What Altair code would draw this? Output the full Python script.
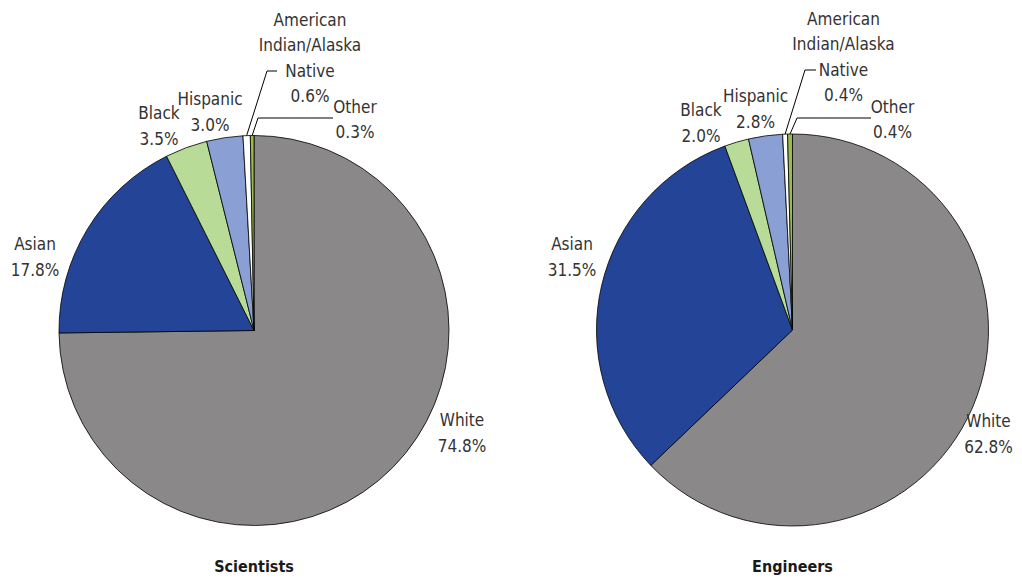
import math
import altair as alt
import pandas as pd

categories = ["White", "Asian", "Black", "Hispanic", "American Indian/Alaska Native", "Other"]
label_names = ["White", "Asian", "Black", "Hispanic", "American\nIndian/Alaska\nNative", "Other"]
scientists = [74.8, 17.8, 3.5, 3.0, 0.6, 0.3]
engineers = [62.8, 31.5, 2.0, 2.8, 0.4, 0.4]
colors = ["#8a8888", "#244597", "#b8dc98", "#8a9fd3", "#ffffff", "#9bbb4e"]
panel_titles = ["Scientists", "Engineers"]

# label placement: first-line centre offset (dx, dy) from the pie centre, px
label_offsets = {
    "Scientists": [(208, 90.5), (-219, -85.5), (-95, -216.5), (-44, -230.5), (56, -310), (101, -223)],
    "Engineers": [(196, 92), (-220.5, -85), (-91.5, -219), (-37, -233), (51, -310.5), (100, -222.5)],
}
# leader lines: (elbow dx, dy, end dx, dy) relative to centre, for AIAN and Other
leaders = {
    "Scientists": {4: (13, -259.5, 23, -259.5), 5: (4, -212.5, 79, -212.5)},
    "Engineers": {4: (12.5, -260, 23.5, -260), 5: (4.5, -212, 78.5, -212)},
}
centres = {"Scientists": (246, 322.5, 195), "Engineers": (784.5, 322, 196)}

FONT = "DejaVu Sans Condensed, Liberation Sans Narrow, sans-serif"

color_scale = alt.Scale(domain=categories, range=colors)

layers = []
for name, values in zip(panel_titles, [scientists, engineers]):
    cx, cy, R = centres[name]
    df = pd.DataFrame({"category": categories, "value": values, "idx": list(range(len(categories)))})
    arc = alt.Chart(df).mark_arc(stroke="#000000", strokeWidth=0.8, radius=R).encode(
        theta=alt.Theta("value:Q", stack=True),
        color=alt.Color("category:N", scale=color_scale, legend=None),
        order=alt.Order("idx:Q", sort="ascending"),
        x=alt.value(cx),
        y=alt.value(cy),
    )
    layers.append(arc)

    offs = label_offsets[name]
    lab = pd.DataFrame({
        "text": [f"{n}\n{v:.1f}%" for n, v in zip(label_names, values)],
        "lt": [math.atan2(dx, -dy) for dx, dy in offs],
        "lr": [math.hypot(dx, dy) for dx, dy in offs],
    })
    text = alt.Chart(lab).mark_text(
        font=FONT, fontSize=17, lineBreak="\n", lineHeight=25.5, align="center",
        baseline="middle", color="#333333",
    ).encode(
        text="text:N",
        theta=alt.Theta("lt:Q", scale=None),
        radius=alt.Radius("lr:Q", scale=None),
        x=alt.value(cx),
        y=alt.value(cy),
    )
    layers.append(text)

    # leader lines from slice midpoints
    total = sum(values)
    cum = 0
    rows = []
    for i, v in enumerate(values):
        mid = (cum + v / 2) / total * 2 * math.pi
        cum += v
        if i in leaders[name]:
            ex, ey, tx, ty = leaders[name][i]
            sx, sy = cx + R * math.sin(mid), cy - R * math.cos(mid)
            for k, (px, py) in enumerate([(sx, sy), (cx + ex, cy + ey), (cx + tx, cy + ty)]):
                rows.append({"g": i, "k": k, "px": px, "py": py})
    ld = pd.DataFrame(rows)
    lines = alt.Chart(ld).mark_line(color="#000000", strokeWidth=1).encode(
        x=alt.X("px:Q", scale=None),
        y=alt.Y("py:Q", scale=None),
        detail="g:N",
        order="k:Q",
    )
    layers.append(lines)

    title = alt.Chart(pd.DataFrame({"t": [name]})).mark_text(
        font=FONT, fontSize=16, fontWeight="bold", color="#1a1a1a", align="center", baseline="middle",
    ).encode(text="t:N", x=alt.value(cx), y=alt.value(559))
    layers.append(title)

chart = alt.layer(*layers).resolve_scale(theta="independent").properties(
    width=1006, height=568, padding=0, autosize=alt.AutoSizeParams(type="none"),
).configure_view(stroke=None)

chart.save("out.html", embed_options={"renderer": "svg", "actions": False})
